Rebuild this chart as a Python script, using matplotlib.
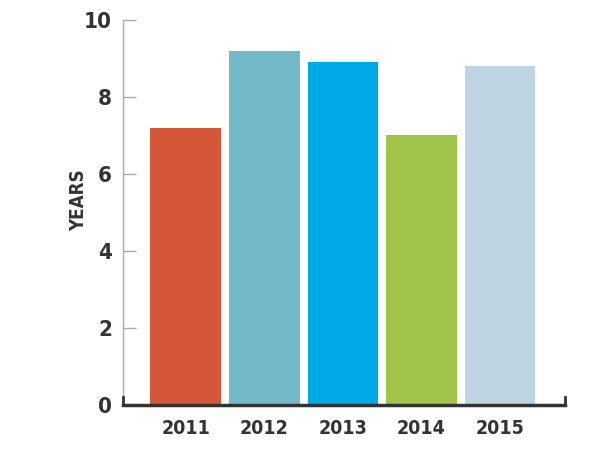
import matplotlib
matplotlib.use("Agg")
import matplotlib.pyplot as plt

years = ["2011", "2012", "2013", "2014", "2015"]
values = [7.2, 9.2, 8.9, 7.0, 8.8]
colors = ["#D4573A", "#72BAC8", "#00AAE4", "#A0C44A", "#BDD5E2"]
yticks = [0, 2, 4, 6, 8, 10]

plt.rcParams['font.family'] = ['DejaVu Sans']
plt.rcParams['font.stretch'] = 'condensed'

fig = plt.figure(figsize=(6, 4.5), dpi=100)
ax = fig.add_axes([0.205, 0.1, 0.737, 0.856])

x = list(range(len(years)))
ax.bar(x, values, width=0.9, color=colors, zorder=2)

ax.set_xlim(-0.8, 4.83)
ax.set_ylim(0, 10)
ax.set_xticks(x)
ax.set_xticklabels(years, fontsize=14, fontweight='bold', color='#333333', stretch='condensed')
ax.set_yticks(yticks)
ax.set_yticklabels([str(v) for v in yticks], fontsize=16, fontweight='bold', color='#333333', stretch='condensed')
ax.tick_params(axis='x', length=0, pad=10)
ax.tick_params(axis='y', direction='in', length=9, width=1, color='#aaaaaa', pad=8)

for s in ['top', 'right']:
    ax.spines[s].set_visible(False)
ax.spines['left'].set_color('#aaaaaa')
ax.spines['left'].set_linewidth(1)
ax.spines['bottom'].set_color('#333333')
ax.spines['bottom'].set_linewidth(2.5)
ax.spines['bottom'].set_zorder(3)
ax.plot([1, 1], [0, 0.02], transform=ax.transAxes, color='#333333', lw=2, clip_on=False, zorder=3)
ax.plot([0, 0], [0, 0.02], transform=ax.transAxes, color='#333333', lw=2, clip_on=False, zorder=3)

ax.set_ylabel("YEARS", fontsize=13.5, fontweight='bold', color='#333333', stretch='condensed')
ax.yaxis.set_label_coords(-0.078, 0.532)

fig.savefig("out.png", dpi=100)
